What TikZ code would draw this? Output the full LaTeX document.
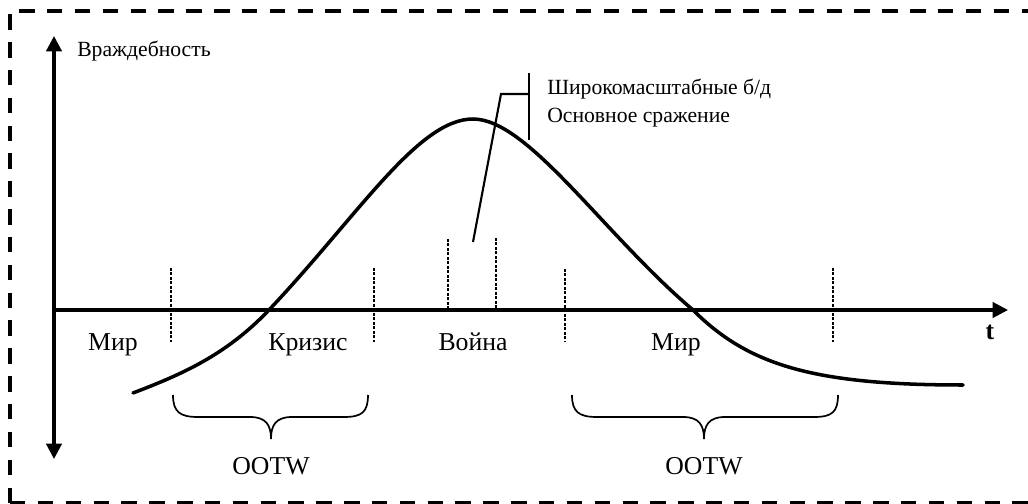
\documentclass[tikz,border=0pt]{standalone}
\usepackage{fontspec}
\setmainfont{Liberation Serif}
\usetikzlibrary{arrows.meta}
\begin{document}
\begin{tikzpicture}[x=0.025cm,y=-0.025cm,
  axisline/.style={line width=2.2pt},
  arrowtip/.style={-{Triangle[width=11pt,length=11pt]}},
  bothtips/.style={{Triangle[width=11pt,length=11pt]}-{Triangle[width=11pt,length=11pt]}},
  curveline/.style={line width=2.5pt,line cap=round},
  dotline/.style={line width=2.1pt,dash pattern=on 2pt off 1.2pt},
  leader/.style={line width=1.5pt},
  bracel/.style={line width=1.2pt},
  border/.style={line width=2.2pt,dash pattern=on 11pt off 8.8pt},
  biglbl/.style={inner sep=0pt,font=\fontsize{18.3}{21}\selectfont},
  smalllbl/.style={inner sep=0pt,font=\fontsize{15.4}{18}\selectfont}]
\useasboundingbox (0,0) rectangle (1028,504);
% border
\draw[border] (10,503) -- (10,11) -- (1040,11);
\draw[border] (10,503) -- (1040,503);
% axes
\coordinate (ytop) at (54,36);
\coordinate (ybot) at (54,459);
\coordinate (xorig) at (54,310);
\coordinate (xend) at (1008,310);
\draw[axisline,bothtips] (ybot) -- (ytop);
\draw[axisline,arrowtip] (xorig) -- (xend);
% dotted separators
\foreach \n/\x/\a/\b in {d1/171/268/342, d2/374/268/342, d3/448/239/309, d4/496/238/309, d5/565/269/342, d6/833/268/342}{
  \coordinate (\n a) at (\x,\a);
  \coordinate (\n b) at (\x,\b);
  \draw[dotline] (\n a) -- (\n b);
}
% curve
\coordinate (c0) at (133,393);
\coordinate (c1) at (268,311);
\coordinate (c2) at (473,119);
\coordinate (c3) at (693,310);
\coordinate (c4) at (963,385);
\draw[curveline] (c0) .. controls (180,375) and (225,356) .. (c1)
  .. controls (358,216) and (418,119) .. (c2)
  .. controls (528,119) and (603,233.5) .. (c3)
  .. controls (748,365) and (813,385) .. (c4);
% leader
\coordinate (lA) at (473,242);
\coordinate (lB) at (501,94);
\coordinate (lC) at (529,94);
\coordinate (bT) at (529,73);
\coordinate (bB) at (529,140);
\draw[leader] (lA) -- (lB) -- (lC);
\draw[leader] (bT) -- (bB);
% braces
\draw[bracel] (173,395) .. controls (173,412) and (180,417) .. (198,417) -- (250,417) .. controls (266,417) and (271,425) .. (271,439)
  .. controls (271,425) and (276,417) .. (292,417) -- (344,417) .. controls (362,417) and (368,412) .. (368,395);
\draw[bracel] (572,395) .. controls (572,412) and (579,417) .. (597,417) -- (683,417) .. controls (699,417) and (704,425) .. (704,439)
  .. controls (704,425) and (709,417) .. (725,417) -- (814,417) .. controls (832,417) and (838,412) .. (838,395);
% labels
\node[smalllbl,anchor=base west] (hostility) at (77,57) {Враждебность};
\node[smalllbl,anchor=base west] (lab1) at (547,95) {Широкомасштабные б/д};
\node[smalllbl,anchor=base west] (lab2) at (547,123) {Основное сражение};
\node[biglbl,anchor=base] (mir1) at (113,351) {Мир};
\node[biglbl,anchor=base] (kriz) at (308,351) {Кризис};
\node[biglbl,anchor=base] (voyna) at (473,351) {Война};
\node[biglbl,anchor=base] (mir2) at (676,351) {Мир};
\node[biglbl,anchor=base,font=\fontsize{18.3}{21}\selectfont\bfseries] (tlbl) at (990,340) {t};
\node[biglbl,anchor=base] (ootw1) at (271,475) {OOTW};
\node[biglbl,anchor=base] (ootw2) at (704,475) {OOTW};
\end{tikzpicture}
\end{document}
